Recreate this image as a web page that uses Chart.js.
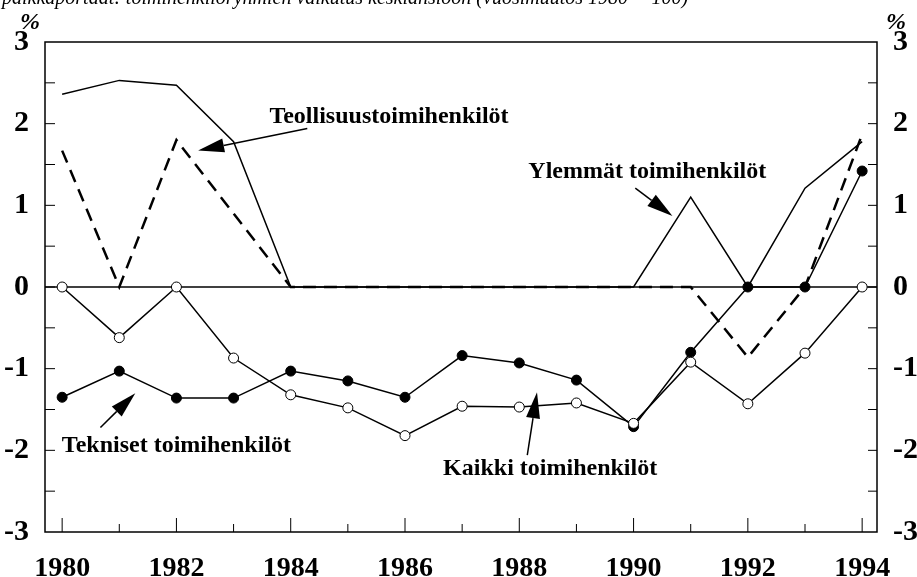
<!DOCTYPE html>
<html>
<head>
<meta charset="utf-8">
<script src="https://cdn.jsdelivr.net/npm/chart.js@4.4.1/dist/chart.umd.min.js"></script>
<style>
  html, body { margin: 0; padding: 0; background: #fff; }
  #wrap { width: 917px; height: 577px; position: relative; }
</style>
</head>
<body>
<div id="wrap"><canvas id="chart" width="917" height="577"></canvas></div>
<script>
// data (annual change, %)
const years = [1980, 1981, 1982, 1983, 1984, 1985, 1986, 1987, 1988, 1989, 1990, 1991, 1992, 1993, 1994];
const ylemmat = [2.36, 2.53, 2.47, 1.78, 0, 0, 0, 0, 0, 0, 0, 1.1, 0, 1.21, 1.78];
const teollisuus = [1.67, 0, 1.8, 0.9, 0, 0, 0, 0, 0, 0, 0, 0, -0.86, 0, 1.87];
const kaikki = [0, -0.62, 0, -0.87, -1.32, -1.48, -1.82, -1.46, -1.47, -1.42, -1.67, -0.92, -1.43, -0.81, 0];
const tekniset = [-1.35, -1.03, -1.36, -1.36, -1.03, -1.15, -1.35, -0.84, -0.93, -1.14, -1.71, -0.8, 0, 0, 1.42];
const xLabels = [1980, 1982, 1984, 1986, 1988, 1990, 1992, 1994];
const yLabels = [-3, -2, -1, 0, 1, 2, 3];

// annotation labels and arrows, in data units
const notes = [
  { text: 'Teollisuustoimihenkilöt', x: 1985.72, y: 2.09, from: [1984.29, 1.94], to: [1982.38, 1.67] },
  { text: 'Ylemmät toimihenkilöt', x: 1990.24, y: 1.41, from: [1990.03, 1.21], to: [1990.68, 0.87] },
  { text: 'Tekniset toimihenkilöt', x: 1982.0, y: -1.94, from: [1980.67, -1.72], to: [1981.28, -1.30] },
  { text: 'Kaikki toimihenkilöt', x: 1988.54, y: -2.22, from: [1988.14, -2.06], to: [1988.31, -1.29] }
];

const pts = (arr) => arr.map((v, i) => ({ x: years[i], y: v }));
const serif = '"Liberation Serif", "DejaVu Serif", serif';

function arrow(ctx, x1, y1, x2, y2) {
  const a = Math.atan2(y2 - y1, x2 - x1);
  const len = 26, half = 7;
  const bx = x2 - len * Math.cos(a), by = y2 - len * Math.sin(a);
  ctx.beginPath();
  ctx.moveTo(x1, y1);
  ctx.lineTo(bx, by);
  ctx.lineWidth = 1.5;
  ctx.stroke();
  ctx.beginPath();
  ctx.moveTo(x2, y2);
  ctx.lineTo(bx + half * Math.sin(a), by - half * Math.cos(a));
  ctx.lineTo(bx - half * Math.sin(a), by + half * Math.cos(a));
  ctx.closePath();
  ctx.fill();
}

const extras = {
  id: 'extras',
  beforeDatasetsDraw(chart) {
    const { ctx, chartArea: a, scales } = chart;
    const y0 = scales.y.getPixelForValue(0);
    ctx.save();
    ctx.strokeStyle = '#000';
    ctx.lineWidth = 1.5;
    ctx.beginPath();
    ctx.moveTo(a.left, y0);
    ctx.lineTo(a.right, y0);
    ctx.stroke();
    ctx.restore();
  },
  afterDraw(chart) {
    const { ctx, chartArea: a, scales } = chart;
    const xs = scales.x, ys = scales.y;
    ctx.save();
    ctx.strokeStyle = '#000';
    ctx.fillStyle = '#000';
    // frame
    ctx.lineWidth = 1.5;
    ctx.strokeRect(a.left, a.top, a.right - a.left, a.bottom - a.top);
    // inward ticks on the y axes
    ctx.lineWidth = 1;
    for (let v = -2.5; v <= 2.5; v += 0.5) {
      const py = ys.getPixelForValue(v);
      ctx.beginPath();
      ctx.moveTo(a.left, py); ctx.lineTo(a.left + 10, py);
      ctx.moveTo(a.right, py); ctx.lineTo(a.right - 9, py);
      ctx.stroke();
    }
    // inward ticks on the x axis
    years.forEach(yr => {
      const px = xs.getPixelForValue(yr);
      const l = yr % 2 === 0 ? 14 : 8;
      ctx.beginPath();
      ctx.moveTo(px, a.bottom); ctx.lineTo(px, a.bottom - l);
      ctx.stroke();
    });
    // % signs
    ctx.font = 'italic bold 24px ' + serif;
    ctx.textBaseline = 'alphabetic';
    ctx.textAlign = 'left';
    ctx.fillText('%', 20, 29);
    ctx.fillText('%', 886, 29);
    // clipped caption at very top
    ctx.font = 'italic 20px ' + serif;
    ctx.fillText('palkkaportaat: toimihenkilöryhmien vaikutus keskiansioon (vuosimuutos 1980 = 100)', 2, 4);
    // annotations
    ctx.font = 'bold 24px ' + serif;
    ctx.textAlign = 'center';
    ctx.textBaseline = 'middle';
    notes.forEach(n => {
      ctx.fillText(n.text, xs.getPixelForValue(n.x), ys.getPixelForValue(n.y));
      arrow(ctx,
        xs.getPixelForValue(n.from[0]), ys.getPixelForValue(n.from[1]),
        xs.getPixelForValue(n.to[0]), ys.getPixelForValue(n.to[1]));
    });
    ctx.restore();
  }
};

const yTickOpts = {
  color: '#000',
  padding: 8,
  font: { family: serif, size: 30, weight: 'bold' },
  callback: (v) => String(v)
};

new Chart(document.getElementById('chart'), {
  type: 'line',
  data: {
    datasets: [
      {
        label: 'Ylemmät toimihenkilöt',
        data: pts(ylemmat),
        borderColor: '#000',
        borderWidth: 1.5,
        pointRadius: 0,
        yAxisID: 'y'
      },
      {
        label: 'Teollisuustoimihenkilöt',
        data: pts(teollisuus),
        borderColor: '#000',
        borderWidth: 2.5,
        borderDash: [13, 8],
        pointRadius: 0,
        yAxisID: 'y'
      },
      {
        label: 'Kaikki toimihenkilöt',
        data: pts(kaikki),
        borderColor: '#000',
        borderWidth: 1.5,
        pointRadius: 5,
        pointBorderWidth: 1,
        pointBorderColor: '#000',
        pointBackgroundColor: '#fff',
        yAxisID: 'y'
      },
      {
        label: 'Tekniset toimihenkilöt',
        data: pts(tekniset),
        borderColor: '#000',
        borderWidth: 1.5,
        pointRadius: 5,
        pointBorderWidth: 1,
        pointBorderColor: '#000',
        pointBackgroundColor: '#000',
        yAxisID: 'y'
      }
    ]
  },
  options: {
    responsive: false,
    animation: false,
    layout: { padding: { top: 42, left: 0, right: 0, bottom: 0 } },
    plugins: {
      legend: { display: false },
      tooltip: { enabled: false }
    },
    scales: {
      x: {
        type: 'linear',
        min: 1979.7,
        max: 1994.26,
        afterBuildTicks: (s) => { s.ticks = xLabels.map(v => ({ value: v })); },
        afterFit: (s) => { s.height = 45; },
        grid: { display: false },
        border: { display: false },
        ticks: {
          color: '#000',
          padding: 12,
          maxRotation: 0,
          autoSkip: false,
          font: { family: serif, size: 28, weight: 'bold' },
          callback: (v) => String(v)
        }
      },
      y: {
        position: 'left',
        min: -3,
        max: 3,
        afterBuildTicks: (s) => { s.ticks = yLabels.map(v => ({ value: v })); },
        afterFit: (s) => { s.width = 45; },
        grid: { display: false },
        border: { display: false },
        ticks: yTickOpts
      },
      y2: {
        position: 'right',
        min: -3,
        max: 3,
        afterBuildTicks: (s) => { s.ticks = yLabels.map(v => ({ value: v })); },
        afterFit: (s) => { s.width = 40; },
        grid: { display: false },
        border: { display: false },
        ticks: yTickOpts
      }
    }
  },
  plugins: [extras]
});
</script>
</body>
</html>
